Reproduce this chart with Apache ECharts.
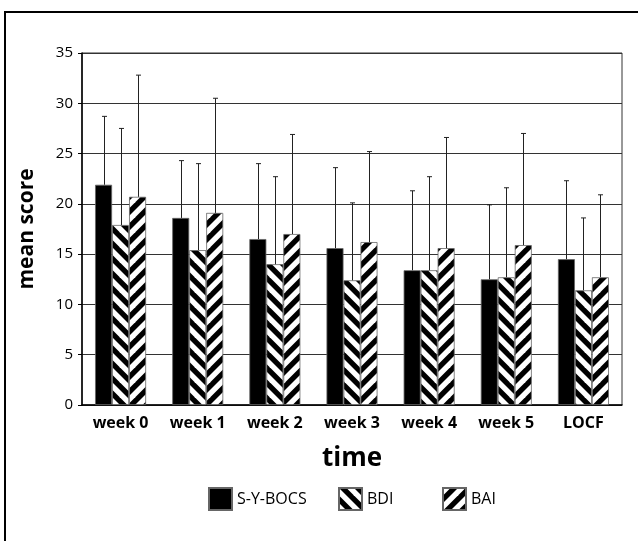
<!DOCTYPE html>
<html>
<head>
<meta charset="utf-8">
<script src="https://cdn.jsdelivr.net/npm/echarts@6/dist/echarts.min.js"></script>
<style>
  html, body { margin: 0; padding: 0; background: #fff; }
  #chart { width: 638px; height: 541px; }
</style>
</head>
<body>
<div id="chart"></div>
<script>
const categories = ["week 0", "week 1", "week 2", "week 3", "week 4", "week 5", "LOCF"];
const sybocs = [21.9, 18.6, 16.5, 15.6, 13.4, 12.5, 14.5];
const sybocsSd = [6.8, 5.7, 7.5, 8.0, 7.9, 7.4, 7.8];
const bdi = [17.9, 15.4, 14.0, 12.4, 13.4, 12.7, 11.4];
const bdiSd = [9.6, 8.6, 8.7, 7.7, 9.3, 8.9, 7.2];
const bai = [20.7, 19.1, 17.0, 16.2, 15.6, 15.9, 12.7];
const baiSd = [12.1, 11.4, 9.9, 9.0, 11.0, 11.1, 8.2];
const seriesNames = ["S-Y-BOCS", "BDI", "BAI"];

const FONT = "'Open Sans', 'Noto Sans', sans-serif";
const BAR_W = 17;

// diagonal black/white stripes; mirror=false gives "\" , mirror=true gives "/"
function stripes(mirror) {
  const s = 15;
  const c = document.createElement("canvas");
  c.width = s;
  c.height = s;
  const ctx = c.getContext("2d");
  ctx.fillStyle = "#fff";
  ctx.fillRect(0, 0, s, s);
  if (mirror) {
    ctx.translate(s, 0);
    ctx.scale(-1, 1);
  }
  ctx.fillStyle = "#000";
  for (let k = -2; k <= 1; k++) {
    ctx.beginPath();
    ctx.moveTo(k * s, 0);
    ctx.lineTo(k * s + s / 2, 0);
    ctx.lineTo(k * s + s / 2 + s, s);
    ctx.lineTo(k * s + s, s);
    ctx.closePath();
    ctx.fill();
  }
  return c;
}

const errData = [];
[sybocs, bdi, bai].forEach(function (vals, si) {
  const sds = [sybocsSd, bdiSd, baiSd][si];
  vals.forEach(function (v, i) {
    errData.push([i, v, sds[i], si - 1]);
  });
});

const chart = echarts.init(document.getElementById("chart"));
const option = {
  animation: false,
  backgroundColor: "#fff",
  textStyle: { fontFamily: FONT },
  graphic: [
    {
      type: "rect",
      shape: { x: 5, y: 12, width: 800, height: 800 },
      style: { fill: "none", stroke: "#000", lineWidth: 2 },
      silent: true
    }
  ],
  grid: {
    left: 82,
    right: 16,
    top: 53,
    bottom: 136,
    show: true,
    borderColor: "#333",
    borderWidth: 1
  },
  legend: [
    { data: [seriesNames[0]], left: 203, top: 482 },
    { data: [seriesNames[1]], left: 333, top: 482 },
    { data: [seriesNames[2]], left: 437, top: 482 }
  ].map(function (l) {
    return Object.assign(l, {
      icon: "rect",
      itemWidth: 23,
      itemHeight: 22,
      textStyle: { fontFamily: FONT, fontSize: 16, color: "#000" }
    });
  }),
  xAxis: {
    type: "category",
    data: categories,
    name: "time",
    nameLocation: "middle",
    nameGap: 41,
    nameTextStyle: { fontFamily: FONT, fontSize: 26, fontWeight: "bold", color: "#000" },
    axisLine: { lineStyle: { color: "#000", width: 1.5 } },
    axisTick: { show: false },
    axisLabel: { fontFamily: FONT, fontSize: 16, fontWeight: "bold", color: "#000", margin: 10 }
  },
  yAxis: {
    type: "value",
    min: 0,
    max: 35,
    interval: 5,
    name: "mean score",
    nameLocation: "middle",
    nameGap: 44,
    nameRotate: 90,
    nameTextStyle: { fontFamily: FONT, fontSize: 21, fontWeight: "bold", color: "#000" },
    axisLine: { show: true, lineStyle: { color: "#000", width: 1.5 } },
    axisTick: { show: true, length: 4, lineStyle: { color: "#000" } },
    axisLabel: { fontFamily: FONT, fontSize: 15, color: "#000", margin: 9 },
    splitLine: { lineStyle: { color: "#333", width: 1 } }
  },
  series: [
    {
      name: seriesNames[0],
      type: "bar",
      data: sybocs,
      barWidth: BAR_W,
      barGap: "0%",
      itemStyle: { color: "#000", borderColor: "#666", borderWidth: 0.8 }
    },
    {
      name: seriesNames[1],
      type: "bar",
      data: bdi,
      barWidth: BAR_W,
      barGap: "0%",
      itemStyle: { color: { image: stripes(false), repeat: "repeat" }, borderColor: "#666", borderWidth: 0.8 }
    },
    {
      name: seriesNames[2],
      type: "bar",
      data: bai,
      barWidth: BAR_W,
      barGap: "0%",
      itemStyle: { color: { image: stripes(true), repeat: "repeat" }, borderColor: "#666", borderWidth: 0.8 }
    },
    {
      type: "custom",
      name: "sd",
      data: errData,
      z: 5,
      silent: true,
      renderItem: function (params, api) {
        const i = api.value(0);
        const v = api.value(1);
        const sd = api.value(2);
        const off = api.value(3) * BAR_W;
        const base = api.coord([i, v]);
        const top = api.coord([i, v + sd]);
        const x = Math.round(base[0] + off) + 0.5;
        const style = { stroke: "#222", lineWidth: 1 };
        return {
          type: "group",
          children: [
            { type: "line", shape: { x1: x, y1: base[1], x2: x, y2: top[1] }, style: style },
            { type: "line", shape: { x1: x - 2.5, y1: top[1], x2: x + 2.5, y2: top[1] }, style: style }
          ]
        };
      }
    }
  ]
};
chart.setOption(option);
window.addEventListener("resize", function () {
  chart.resize();
});
</script>
</body>
</html>
